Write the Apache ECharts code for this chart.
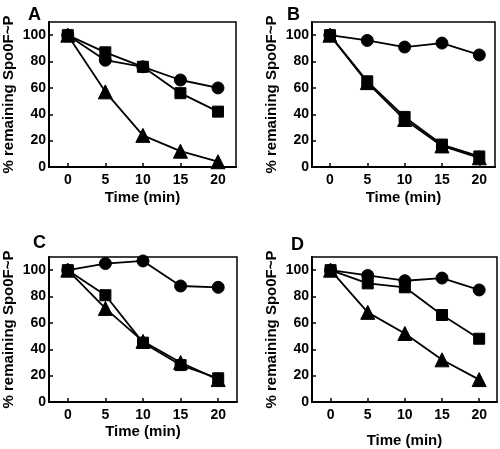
<!DOCTYPE html>
<html>
<head>
<meta charset="utf-8">
<script src="https://cdn.jsdelivr.net/npm/echarts@6/dist/echarts.min.js"></script>
<style>
html,body{margin:0;padding:0;background:#fff;}
#c{width:500px;height:449px;}
</style>
</head>
<body>
<div id="c"></div>
<script>
// Data
var times = [0, 5, 10, 15, 20];
var timeTicks = [0, 5, 10, 15, 20];
var yTicks = [0, 20, 40, 60, 80, 100];
var panelLabels = ['A', 'B', 'C', 'D'];
var xTitle = 'Time (min)';
var yTitle = '% remaining Spo0F~P';

var A_circle   = [100, 81, 76, 66, 60];
var A_square   = [100, 87, 76, 56, 42];
var A_triangle = [100, 57, 24, 12, 4];

var B_circle   = [100, 96, 91, 94, 85];
var B_square   = [100, 65, 38, 17, 8];
var B_triangle = [100, 64, 36, 16, 7];

var C_circle   = [100, 105, 107, 88, 87];
var C_square   = [100, 81, 45, 28, 18];
var C_triangle = [100, 71, 46, 30, 17];

var D_circle   = [100, 96, 92, 94, 85];
var D_square   = [100, 90, 87, 66, 48];
var D_triangle = [100, 68, 52, 32, 17];

var panelSeries = [
  [A_circle, A_square, A_triangle],
  [B_circle, B_square, B_triangle],
  [C_circle, C_square, C_triangle],
  [D_circle, D_square, D_triangle]
];

// Layout
var grids = [
  {left: 49, top: 22, width: 187, height: 145},
  {left: 312, top: 22, width: 183, height: 145},
  {left: 49, top: 257, width: 188, height: 145},
  {left: 312, top: 257, width: 185, height: 146}
];
var xRanges = [[-2.5, 22.4], [-2.4, 22.1], [-2.5, 22.5], [-2.5, 22.4]];
var xNameGaps = [23, 23, 22, 31];
var letterPos = [[23, 1], [282, 1], [28, 229], [286, 231]];

var font = 'Liberation Sans, Arial, sans-serif';
var symbols = ['circle', 'rect', 'triangle'];
var sizes = [12, 11, 14];

function pairs(arr) { return times.map(function (t, i) { return [t, arr[i]]; }); }

var option = {
  animation: false,
  backgroundColor: '#fff',
  title: panelLabels.map(function (l, i) {
    return {text: l, left: letterPos[i][0], top: letterPos[i][1],
      textStyle: {fontFamily: font, fontWeight: 'bold', fontSize: 18, color: '#000'}};
  }),
  grid: grids.map(function (g) {
    return {left: g.left, top: g.top, width: g.width, height: g.height,
      show: true, borderColor: '#000', borderWidth: 1.5, backgroundColor: 'transparent'};
  }),
  xAxis: grids.map(function (g, i) {
    return {
      type: 'value', gridIndex: i, min: xRanges[i][0], max: xRanges[i][1],
      name: xTitle, nameLocation: 'middle', nameGap: xNameGaps[i],
      nameTextStyle: {fontFamily: font, fontWeight: 'bold', fontSize: 15, color: '#000'},
      axisLine: {show: true, onZero: false, lineStyle: {color: '#000', width: 2}},
      axisTick: {show: true, inside: true, length: 4, lineStyle: {color: '#000', width: 1.5}, customValues: timeTicks},
      axisLabel: {customValues: timeTicks, margin: 6, fontFamily: font, fontWeight: 'bold', fontSize: 14, color: '#000'},
      splitLine: {show: false}
    };
  }),
  yAxis: grids.map(function (g, i) {
    return {
      type: 'value', gridIndex: i, min: 0, max: 110,
      name: yTitle, nameLocation: 'middle', nameGap: 33, nameRotate: 90,
      nameTextStyle: {fontFamily: font, fontWeight: 'bold', fontSize: 15, color: '#000'},
      axisLine: {show: true, onZero: false, lineStyle: {color: '#000', width: 2}},
      axisTick: {show: true, inside: true, length: 4, lineStyle: {color: '#000', width: 1.5}, customValues: yTicks},
      axisLabel: {customValues: yTicks, margin: 3, fontFamily: font, fontWeight: 'bold', fontSize: 14, color: '#000'},
      splitLine: {show: false}
    };
  }),
  series: []
};

panelSeries.forEach(function (set, pi) {
  set.forEach(function (arr, si) {
    option.series.push({
      type: 'line', xAxisIndex: pi, yAxisIndex: pi,
      data: pairs(arr),
      symbol: symbols[si], symbolSize: sizes[si],
      lineStyle: {color: '#000', width: 1.8},
      itemStyle: {color: '#000', borderColor: '#000'},
      z: 3 - si
    });
  });
});

var chart = echarts.init(document.getElementById('c'), null, {renderer: 'canvas'});
chart.setOption(option);
</script>
</body>
</html>
